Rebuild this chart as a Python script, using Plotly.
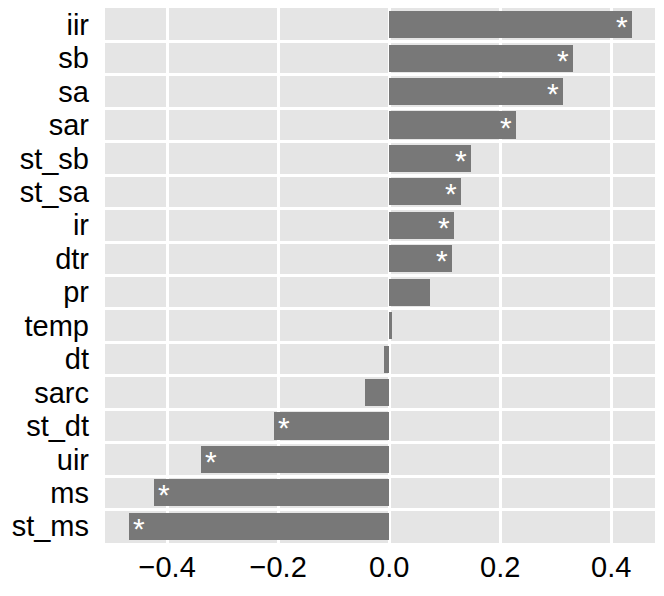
import plotly.graph_objects as go

# variables, top to bottom
variables = ["iir", "sb", "sa", "sar", "st_sb", "st_sa", "ir", "dtr", "pr",
             "temp", "dt", "sarc", "st_dt", "uir", "ms", "st_ms"]
corr = [0.437, 0.331, 0.313, 0.229, 0.147, 0.130, 0.117, 0.113, 0.074,
        0.005, -0.010, -0.043, -0.208, -0.339, -0.424, -0.469]
signif = [True, True, True, True, True, True, True, True, False,
          False, False, False, True, True, True, True]

x_ticks = [-0.4, -0.2, 0.0, 0.2, 0.4]
x_ticktext = ["\u22120.4", "\u22120.2", "0.0", "0.2", "0.4"]

FONT = "Liberation Sans, Arial, sans-serif"

fig = go.Figure()
fig.add_trace(go.Bar(
    x=corr, y=variables, orientation="h",
    marker=dict(color="#787878", line=dict(width=0)),
    width=0.81,
    hoverinfo="x+y",
    showlegend=False
))

# asterisks at the bar ends
for v, c, s in zip(variables, corr, signif):
    if s:
        fig.add_annotation(
            x=c, y=v, text="*", showarrow=False,
            xshift=-10 if c > 0 else 10, yshift=-2,
            font=dict(size=30, color="white", family=FONT)
        )

# page body has an 8px margin, so the figure is a bit smaller than the window
fig.update_layout(
    width=656, height=588,
    plot_bgcolor="#e5e5e5", paper_bgcolor="white",
    font=dict(family=FONT, size=29, color="black"),
    margin=dict(l=97, r=9, t=0, b=53),
    bargap=0
)
fig.update_xaxes(
    range=[-0.512, 0.479], tickvals=x_ticks, ticktext=x_ticktext,
    showgrid=True, gridcolor="white", gridwidth=2.5,
    zeroline=False, showline=False, ticks="", ticklabelstandoff=4,
    automargin=False
)
fig.update_yaxes(
    type="category", categoryorder="array", categoryarray=variables,
    tickmode="array", tickvals=variables, ticktext=variables,
    range=[len(variables) - 0.5, -0.5], tickson="boundaries",
    showgrid=True, gridcolor="white", gridwidth=3,
    zeroline=False, showline=False, ticks="", ticklabelstandoff=15,
    automargin=False
)

fig.write_html("out.html")
